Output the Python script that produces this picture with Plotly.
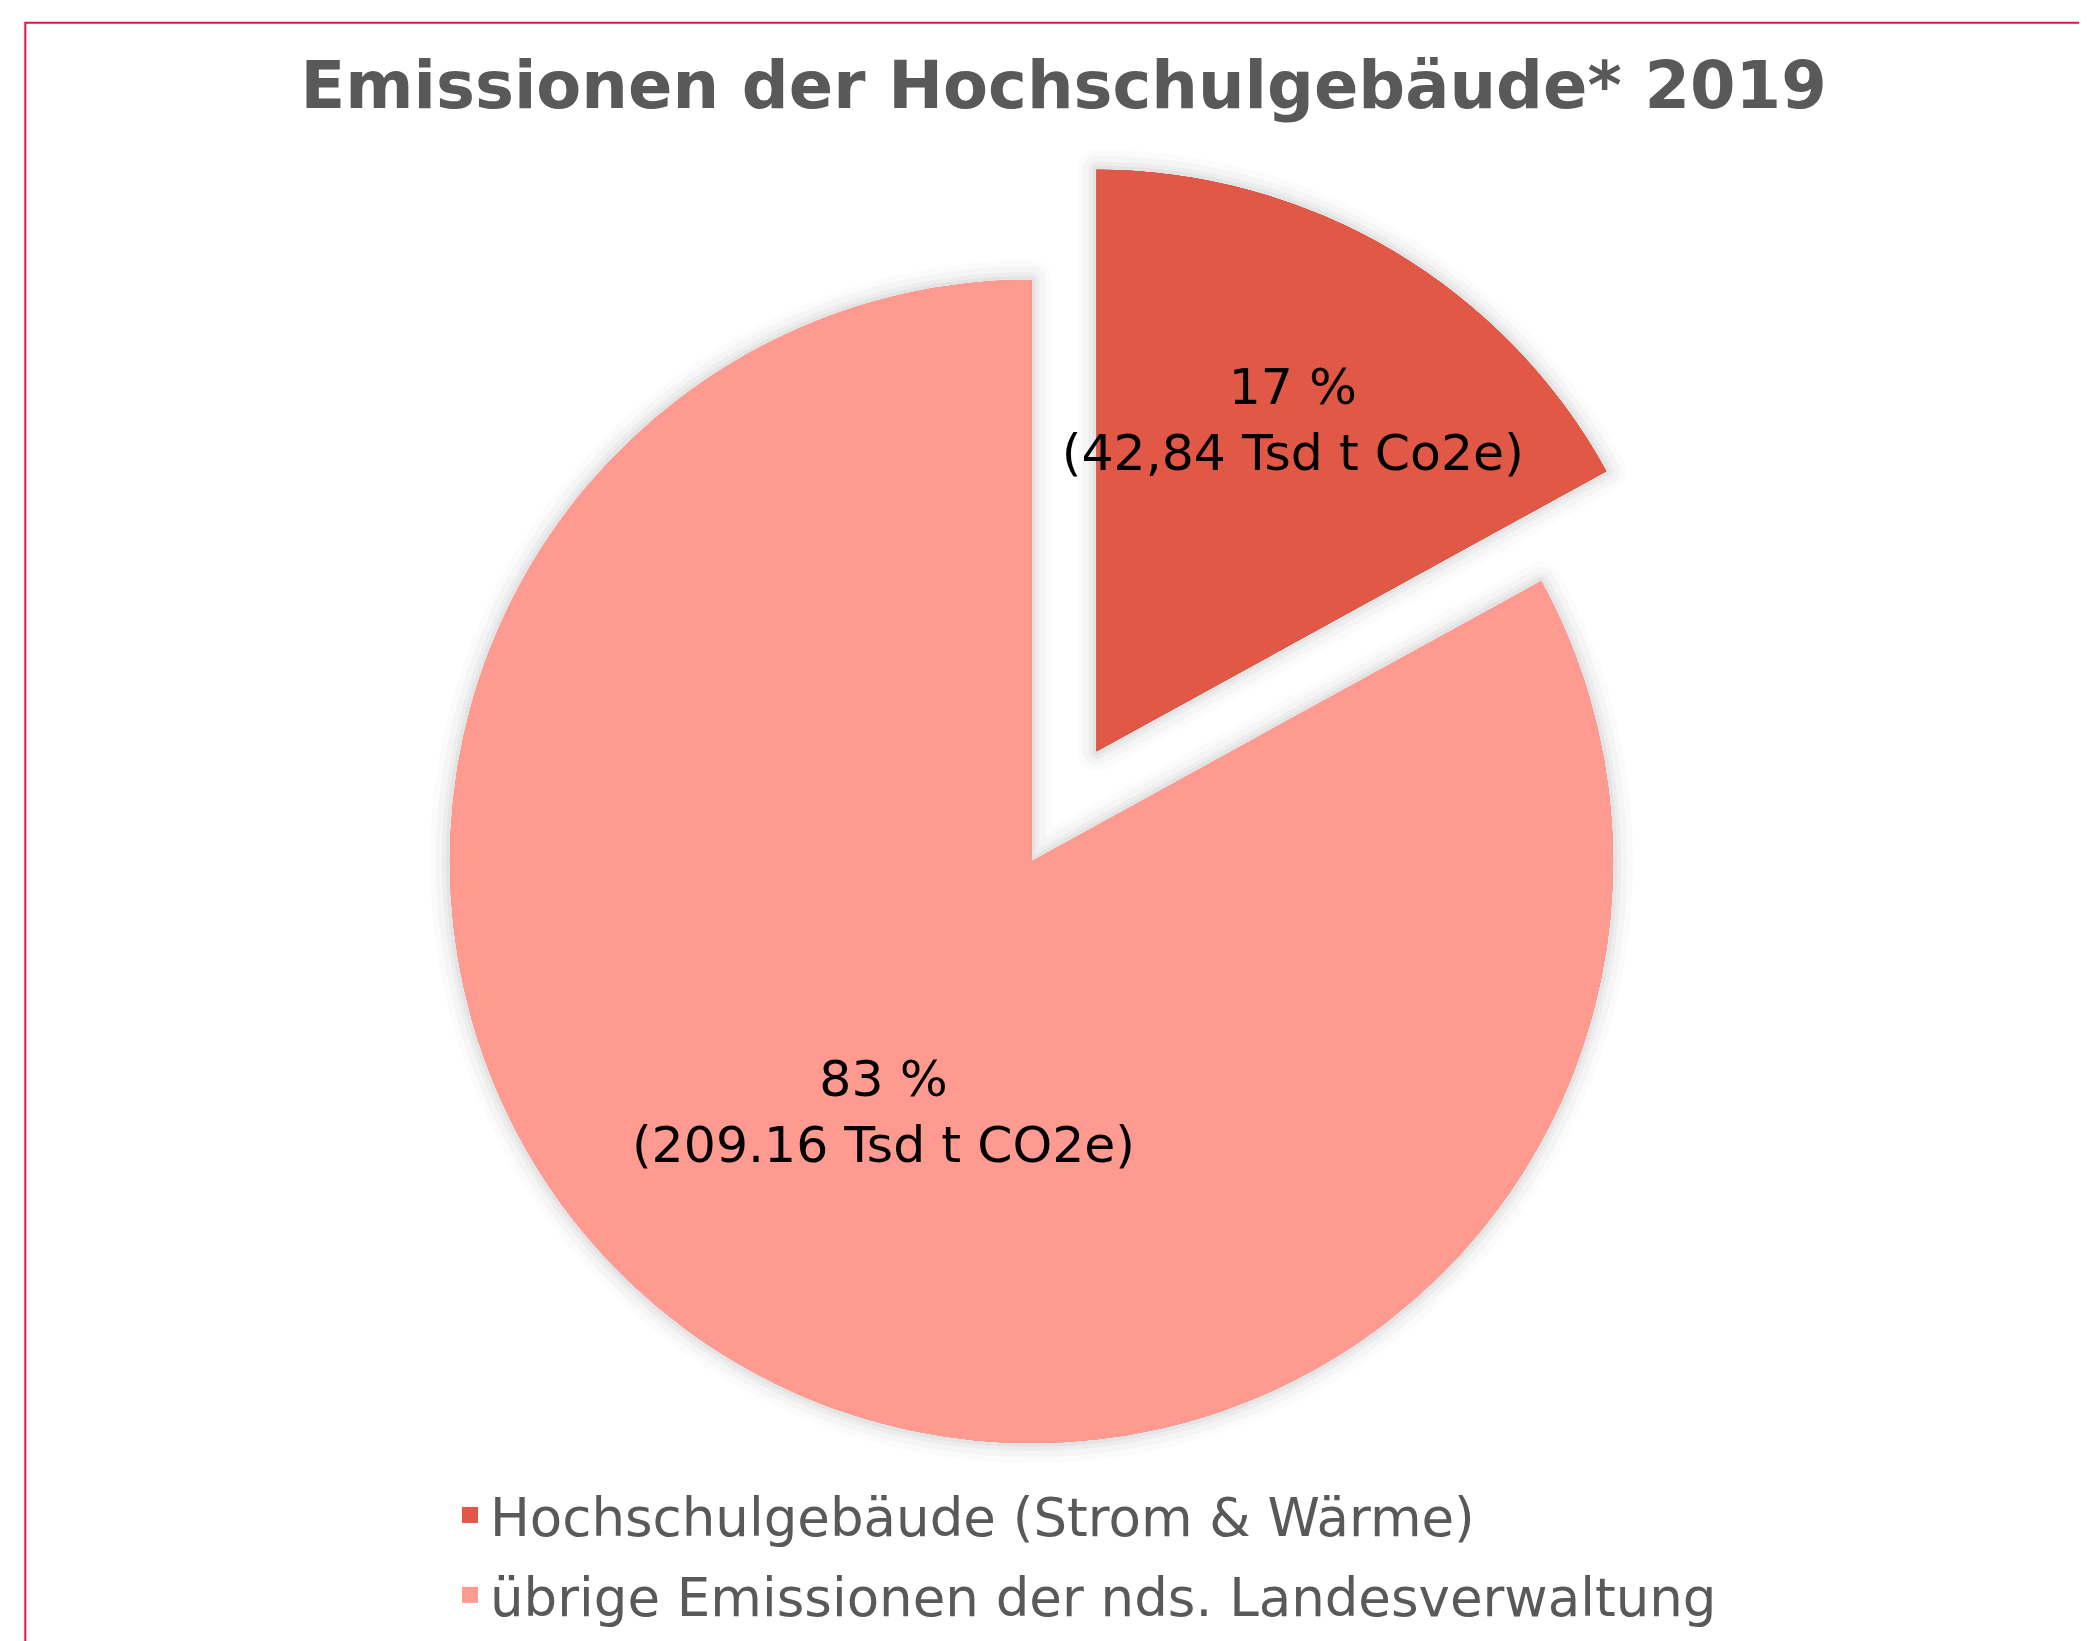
import plotly.graph_objects as go

# ---- data ----
labels = ["Hochschulgebäude (Strom & Wärme)", "übrige Emissionen der nds. Landesverwaltung"]
values = [42.84, 209.16]
value_texts = ["(42,84 Tsd t Co2e)", "(209.16 Tsd t CO2e)"]
colors = ["#E15846", "#FF9A91"]
pulls = [0.22, 0]
title_text = "Emissionen der Hochschulgebäude* 2019"

total = sum(values)
slice_texts = [f"{round(v / total * 100)} %<br>{t}" for v, t in zip(values, value_texts)]

W, H = 2087, 1641
dom_x = [314 / W, 1733 / W]
dom_y = [0.0262, 0.9336]

fig = go.Figure()

# soft shadow halo behind the slices
for lw, a in [(40, 0.015), (28, 0.022), (16, 0.03), (8, 0.035)]:
    fig.add_trace(go.Pie(
        labels=labels, values=values, sort=False, direction="clockwise", rotation=0,
        pull=pulls, domain=dict(x=dom_x, y=dom_y),
        marker=dict(colors=colors, line=dict(color=f"rgba(0,0,0,{a})", width=lw)),
        textinfo="none", hoverinfo="skip", showlegend=False,
    ))

fig.add_trace(go.Pie(
    labels=labels, values=values, sort=False, direction="clockwise", rotation=0,
    pull=pulls, domain=dict(x=dom_x, y=dom_y),
    marker=dict(colors=colors, line=dict(width=0)),
    text=slice_texts, textinfo="text", textposition="inside",
    insidetextorientation="horizontal",
    insidetextfont=dict(family="DejaVu Sans", size=50.5, color="#000000"),
    showlegend=False,
))

# legend entries (square swatches)
for i, (lab, col) in enumerate(zip(labels, colors)):
    fig.add_trace(go.Scatter(
        x=[None], y=[None], mode="markers", name=lab, legendgroup=f"g{i}",
        marker=dict(symbol="square", size=26, color=col, line=dict(width=0)),
        showlegend=True, hoverinfo="skip",
    ))

fig.update_layout(
    width=W, height=H,
    margin=dict(l=0, r=0, t=0, b=0),
    paper_bgcolor="white", plot_bgcolor="white",
    xaxis=dict(visible=False), yaxis=dict(visible=False),
    uniformtext=dict(minsize=50.5, mode="show"),
    title=dict(text=title_text, x=0.5058, xanchor="center", y=1 - 77 / H, yanchor="middle",
               font=dict(family="DejaVu Sans", size=65.5, color="#595959", weight="bold")),
    legend=dict(orientation="v", x=442 / W, xanchor="left", y=1 - 1466 / H, yanchor="top",
                font=dict(family="DejaVu Sans", size=53, color="#595959"),
                tracegroupgap=8, itemsizing="trace",
                bgcolor="rgba(0,0,0,0)"),
    shapes=[dict(type="rect", xref="paper", yref="paper",
                 x0=17.3 / W, x1=1.02, y0=-0.02, y1=1 - 14.7 / H,
                 line=dict(color="#E2143E", width=2), layer="above")],
)

fig.write_html("out.html")
